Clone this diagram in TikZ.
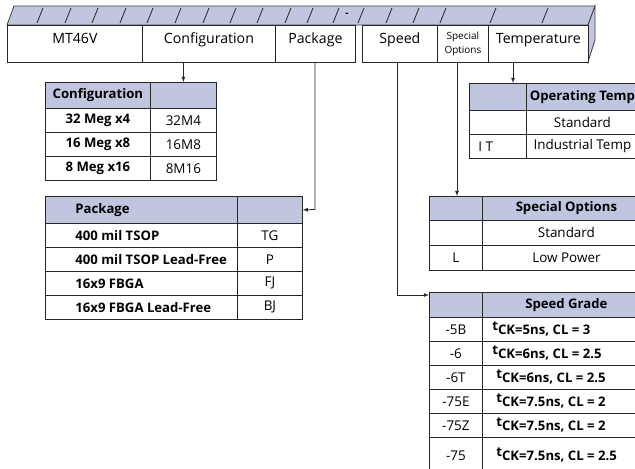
\documentclass[tikz,border=0pt]{standalone}
\usepackage{fontspec}
\setmainfont{Open Sans}
\usetikzlibrary{arrows}
\definecolor{bandblue}{RGB}{192,198,224}
\tikzset{
  hdrbox/.style = {draw=black!85, fill=white, anchor=north west, inner sep=0pt, minimum height=37bp, font=\fontsize{14.2}{17}\selectfont},
  hdrtext/.style = {text height=10bp, text depth=11bp},
  cell/.style = {draw=black!85, anchor=north west, inner sep=0pt, font=\fontsize{13.5}{16}\selectfont},
  boldcell/.style = {cell, font=\fontsize{13.2}{16}\selectfont\bfseries},
  headcell/.style = {boldcell, fill=bandblue},
  feed/.style = {draw=black!85, -latex}
}
\newcommand{\lefttext}[2]{\makebox[#1][l]{#2}}
\newcommand{\tck}{\raisebox{0.55ex}{t}CK}

\begin{document}
\begin{tikzpicture}[x=1bp, y=-1bp, line width=0.8bp]
  \useasboundingbox (0,0) rectangle (635,469);
  \clip (0,0) rectangle (635,469);

  % part number band
  \draw[fill=bandblue, draw=black!75] (7,25) -- (14,6) -- (595,6) -- (588,25) -- cycle;
  \draw[fill=bandblue, draw=black!75] (588,25) -- (595,6) -- (595,40) -- (588,62) -- cycle;
  \foreach \x in {37,65,92,120,147,175,203,230,257,285,307,333,358,386,413,440,490,542}
    \draw[black!80, line width=0.9bp] (\x,23) -- ++(6,-15);
  \node[font=\fontsize{10}{12}\selectfont\bfseries] (dash) at (347,15) {-};

  \node[hdrbox, hdrtext, minimum width=135bp] (mtbox) at (7,25) {MT46V};
  \node[hdrbox, hdrtext, minimum width=133bp] (cfgbox) at (142,25) {Configuration};
  \node[hdrbox, hdrtext, minimum width=80bp] (pkgbox) at (275,25) {Package};
  \node[hdrbox, hdrtext, minimum width=75bp] (spdbox) at (362,25) {Speed};
  \node[hdrbox, minimum width=51bp, align=center, font=\fontsize{10}{14}\selectfont] (optbox) at (437,25) {Special\\Options};
  \node[hdrbox, hdrtext, minimum width=100bp] (tmpbox) at (488,25) {Temperature};

  % configuration
  \node[headcell, minimum width=105bp, minimum height=26bp] (cfg-h1) at (45,82) {Configuration};
  \node[headcell, minimum width=66bp, minimum height=26bp] (cfg-h2) at (150,82) {};
  \foreach \size/\code [count=\i] in {32 Meg x4/32M4, 16 Meg x8/16M8, 8 Meg x16/8M16} {
    \node[boldcell, minimum width=105bp, minimum height=24bp] (cfg-\i a) at (45,{84+24*\i}) {\size};
    \node[cell, minimum width=66bp, minimum height=24bp] (cfg-\i b) at (150,{84+24*\i}) {\code};
  }

  % package
  \node[headcell, minimum width=192bp, minimum height=27bp] (pkg-h1) at (45,196) {\lefttext{132bp}{Package}};
  \node[headcell, minimum width=65bp, minimum height=27bp] (pkg-h2) at (237,196) {};
  \foreach \pack/\code [count=\i] in {400 mil TSOP/TG, 400 mil TSOP Lead-Free/P, 16x9 FBGA/FJ, 16x9 FBGA Lead-Free/BJ} {
    \node[boldcell, minimum width=192bp, minimum height=24bp] (pkg-\i a) at (45,{199+24*\i}) {\lefttext{132bp}{\pack}};
    \node[cell, minimum width=65bp, minimum height=24bp] (pkg-\i b) at (237,{199+24*\i}) {\code};
  }

  % temperature
  \node[headcell, minimum width=57bp, minimum height=27bp] (tmp-h1) at (469,83) {};
  \node[headcell, minimum width=112bp, minimum height=27bp] (tmp-h2) at (526,83) {Operating Temp};
  \node[cell, minimum width=57bp, minimum height=24bp] (tmp-1a) at (469,110) {};
  \node[cell, minimum width=112bp, minimum height=24bp] (tmp-1b) at (526,110) {Standard};
  \node[cell, minimum width=57bp, minimum height=24bp] (tmp-2a) at (469,134) {\lefttext{39bp}{I T}};
  \node[cell, minimum width=112bp, minimum height=24bp] (tmp-2b) at (526,134) {Industrial Temp};

  % special options
  \node[headcell, minimum width=53bp, minimum height=24bp] (opt-h1) at (429,196) {};
  \node[headcell, minimum width=168bp, minimum height=24bp] (opt-h2) at (482,196) {Special Options};
  \node[cell, minimum width=53bp, minimum height=25bp] (opt-1a) at (429,220) {};
  \node[cell, minimum width=168bp, minimum height=25bp] (opt-1b) at (482,220) {Standard};
  \node[cell, minimum width=53bp, minimum height=25bp] (opt-2a) at (429,245) {L};
  \node[cell, minimum width=168bp, minimum height=25bp] (opt-2b) at (482,245) {Low Power};

  % speed grade
  \node[headcell, minimum width=53bp, minimum height=25bp] (spd-h1) at (429,292) {};
  \node[headcell, minimum width=168bp, minimum height=25bp] (spd-h2) at (482,292) {Speed Grade};
  \foreach \grade/\ns/\cl/\h/\ind [count=\i] in {-5B/5ns/3/24/0, -6/6ns/2.5/24/0, -6T/6ns/2.5/24/4, -75E/7.5ns/2/24/4, -75Z/7.5ns/2/24/4, -75/7.5ns/2.5/36/4} {
    \node[cell, minimum width=53bp, minimum height=\h bp] (spd-\i a) at (429,{293+24*\i}) {\grade};
    \node[boldcell, minimum width=168bp, minimum height=\h bp] (spd-\i b) at (482,{293+24*\i}) {\lefttext{148bp}{\hspace*{\ind bp}\tck=\ns, CL = \cl}};
  }

  % feeds from the part number
  \coordinate (tmp-in) at (513,83);
  \coordinate (opt-in) at (457,196);
  \coordinate (pkg-turn) at (315,209.5);
  \coordinate (spd-turn) at (397,295);
  \coordinate (spd-in) at (429,295);
  \draw[feed] (cfg-h2.north |- cfgbox.south) -- (cfg-h2.north);
  \draw[feed] (tmp-in |- tmpbox.south) -- (tmp-in);
  \draw[feed] (opt-in |- optbox.south) -- (opt-in);
  \draw[feed] (pkg-turn |- pkgbox.south) -- (pkg-turn) -- (pkg-h2.east);
  \draw[feed] (spd-turn |- spdbox.south) -- (spd-turn) -- (spd-in);
\end{tikzpicture}
\end{document}
